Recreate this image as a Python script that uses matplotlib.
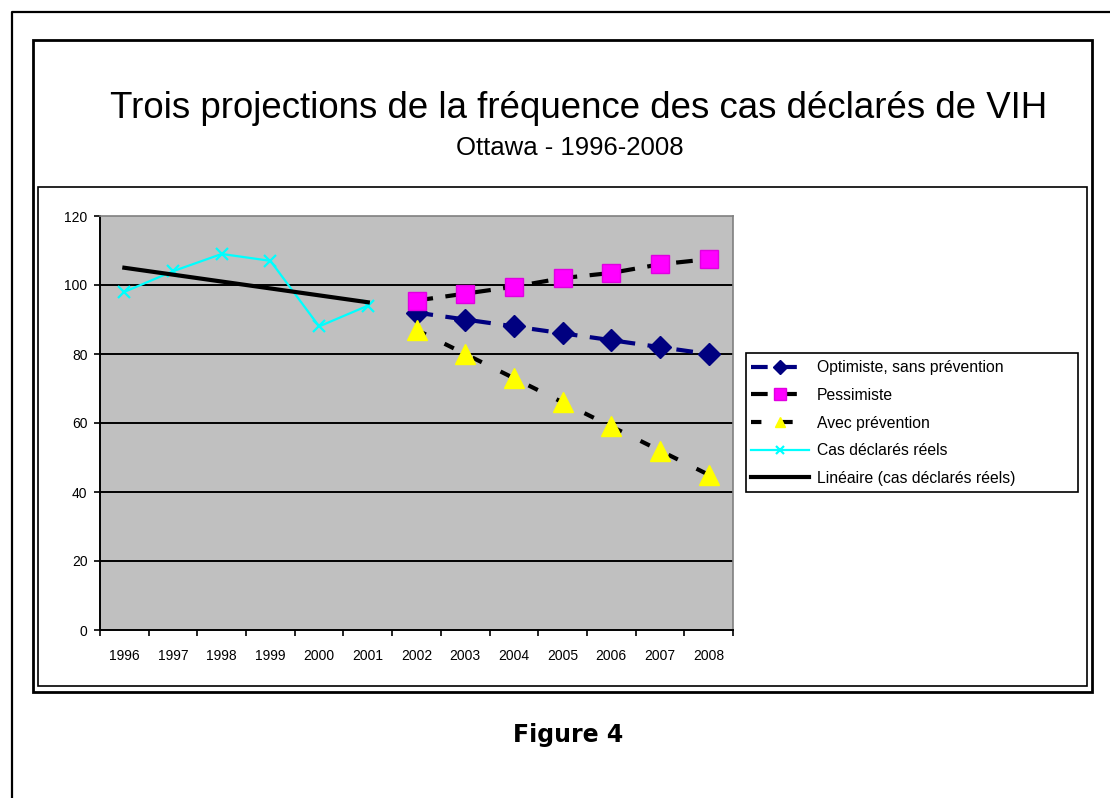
import matplotlib.pyplot as plt
import numpy as np
from matplotlib.lines import Line2D
from matplotlib.patches import Rectangle

years = [str(y) for y in range(1996, 2009)]
reported = [98, 104, 109, 107, 88, 94]
optimiste = [92, 90, 88, 86, 84, 82, 80]
pessimiste = [95.5, 97.5, 99.5, 102, 103.5, 106, 107.5]
prevention = [87, 80, 73, 66, 59, 52, 45]

W, H = 1110, 798


def fx(px):
    return px / W


def fy(py):
    return 1 - py / H


plt.rcParams["font.family"] = ["Liberation Sans", "DejaVu Sans"]

fig = plt.figure(figsize=(W / 100, H / 100), dpi=100)

# frames around the chart (page border, chart area, inner box, legend box)
fig.add_artist(Line2D([fx(12), fx(12), fx(W)], [fy(H), fy(12), fy(12)],
                      color="black", lw=1.6, transform=fig.transFigure))
fig.add_artist(Rectangle((fx(33), fy(692)), fx(1092) - fx(33), fy(40) - fy(692),
                         fill=False, ec="black", lw=2.0, transform=fig.transFigure))
fig.add_artist(Rectangle((fx(38), fy(686)), fx(1087) - fx(38), fy(187) - fy(686),
                         fill=False, ec="black", lw=1.2, transform=fig.transFigure))
fig.add_artist(Rectangle((fx(746), fy(492)), fx(1078) - fx(746), fy(353) - fy(492),
                         fill=True, fc="white", ec="black", lw=1.2,
                         transform=fig.transFigure, zorder=2))

ax = fig.add_axes([fx(100), fy(630), fx(733) - fx(100), fy(216) - fy(630)])
ax.set_facecolor("#C0C0C0")

x_hist = np.arange(len(reported))
x_proj = np.arange(len(reported), len(years))

# gridlines
for yv in range(20, 120, 20):
    ax.axhline(yv, color="black", lw=1.4, zorder=1)

coef = np.polyfit(x_hist, reported, 1)
trend = np.polyval(coef, x_hist)

opt_style = dict(color="#000080", lw=3, dashes=(4, 3), marker="D",
                 mfc="#000080", mec="#000080")
pes_style = dict(color="black", lw=3, dashes=(4, 3), marker="s",
                 mfc="#FF00FF", mec="#E000E0")
pre_style = dict(color="black", lw=3, dashes=(2.5, 5), marker="^",
                 mfc="#FFFF00", mec="#FFFF00")
rep_style = dict(color="#00FFFF", lw=1.6, marker="x", mew=1.6)
lin_style = dict(color="black", lw=3)

ax.plot(x_proj, optimiste, ms=11, zorder=4, **opt_style)
ax.plot(x_proj, pessimiste, ms=13, zorder=4, **pes_style)
ax.plot(x_proj, prevention, ms=15, zorder=4, **pre_style)
ax.plot(x_hist, reported, ms=8, zorder=3, **rep_style)
ax.plot(x_hist, trend, zorder=3, **lin_style)

ax.set_xlim(-0.5, len(years) - 0.5)
ax.set_ylim(0, 120)
ax.set_yticks(range(0, 121, 20))
ax.tick_params(axis="y", direction="out", length=4, width=1.2, pad=5,
               labelsize=10, color="black")
ax.set_xticks(np.arange(-0.5, len(years)))
ax.set_xticklabels([])
ax.set_xticks(np.arange(len(years)), minor=True)
ax.set_xticklabels(years, minor=True)
ax.tick_params(axis="x", which="major", direction="out", length=4, width=1.2)
ax.tick_params(axis="x", which="minor", length=0, pad=14, labelsize=10)

for side in ("left", "bottom"):
    ax.spines[side].set_color("black")
    ax.spines[side].set_linewidth(1.4)
for side in ("top", "right"):
    ax.spines[side].set_color("#808080")
    ax.spines[side].set_linewidth(1.2)

# legend with smaller markers, drawn over the hand-made box
handles = [
    Line2D([], [], ms=7, **opt_style),
    Line2D([], [], ms=8, **pes_style),
    Line2D([], [], ms=7, **pre_style),
    Line2D([], [], ms=6, **rep_style),
    Line2D([], [], **lin_style),
]
labels = ["Optimiste, sans prévention", "Pessimiste", "Avec prévention",
          "Cas déclarés réels", "Linéaire (cas déclarés réels)"]
leg = fig.legend(handles, labels, loc="upper left",
                 bbox_to_anchor=(fx(748), fy(357)),
                 bbox_transform=fig.transFigure, fontsize=11.3, frameon=False,
                 handlelength=3.7, handletextpad=0.5, labelspacing=0.81,
                 borderpad=0.2, borderaxespad=0)
leg.set_zorder(3)

fig.text(fx(579), fy(108), "Trois projections de la fréquence des cas déclarés de VIH",
         ha="center", va="center", fontsize=26.4)
fig.text(fx(570), fy(148), "Ottawa - 1996-2008", ha="center", va="center",
         fontsize=18.5)
fig.text(fx(568), fy(735), "Figure 4", ha="center", va="center",
         fontsize=17, fontweight="bold", family="DejaVu Sans")

fig.savefig("out.png", dpi=100)
